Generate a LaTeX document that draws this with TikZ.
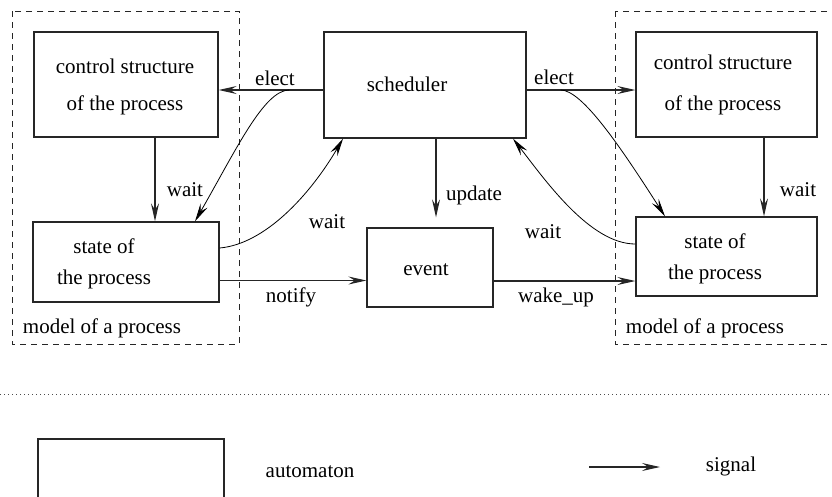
\documentclass[tikz,border=0pt]{standalone}
\usepackage{fontspec}
\setmainfont{Liberation Serif}
\usetikzlibrary{arrows.meta,positioning}

\begin{document}
\begin{tikzpicture}[
    x=1pt, y=-1pt,
    box/.style={draw=black!85, line width=1.3pt, inner sep=0pt},
    ctrl/.style={box, minimum width=184pt, minimum height=105pt},
    state/.style={box, minimum height=80pt},
    lbl/.style={font=\fontsize{21}{24}\selectfont, inner sep=0pt, align=center},
    flow/.style={-{Stealth[length=18pt, width=8pt, inset=6.5pt]}, line width=1.1pt, draw=black!85},
    curved/.style={flow, line width=0.8pt, draw=black},
    region/.style={draw=black!85, line width=0.9pt, dash pattern=on 6pt off 5pt}
]
\useasboundingbox (0,0) rectangle (832,496);
\clip (0,0) rectangle (832,496);

% the two process models
\draw[region] (12,11) rectangle (239,344);
\draw[region] (615,11) rectangle (850,344);
\node[lbl] (lmodel) at (102,328) {model of a process};
\node[lbl] (rmodel) at (705,328) {model of a process};

\node[ctrl] (lctrl) at (126,84.5) {};
\node[lbl] at (125,87) {control structure\\[13pt]of the process};
\node[state, minimum width=186pt] (lstate) at (126,262) {};
\node[lbl] at (104,264) {state of\\[7pt]the process};

\node[box, minimum width=202pt, minimum height=106pt] (sched) at (425,85) {};
\node[lbl] at (407,84) {scheduler};
\node[box, minimum width=126pt, minimum height=79pt] (event) at (430,267.5) {};
\node[lbl] at (426,270) {event};

\node[ctrl, minimum width=181pt] (rctrl) at (726.5,84.5) {};
\node[lbl] at (723,85) {control structure\\[17pt]of the process};
\node[state, minimum width=181pt, minimum height=79pt] (rstate) at (726.5,256.5) {};
\node[lbl] at (715,259) {state of\\[7pt]the process};

% signals
\coordinate (lfork) at ([xshift=-34pt,yshift=-5pt]sched.west);
\coordinate (rfork) at ([xshift=34pt,yshift=-5pt]sched.east);
\draw[flow] ([yshift=-5pt]sched.west) -- ([yshift=-5pt]sched.west -| lctrl.east);
\draw[flow] ([yshift=-5pt]sched.east) -- ([yshift=-5pt]sched.east -| rctrl.west);
\draw[curved] (lfork) .. controls (264,90) and (236,150) .. ([xshift=69pt]lstate.north);
\draw[curved] (rfork) .. controls (582,90) and (620,146) .. ([xshift=-61.5pt]rstate.north);
\draw[flow] ([xshift=29pt]lctrl.south) -- ([xshift=29pt]lstate.north);
\draw[flow] ([xshift=37.5pt]rctrl.south) -- ([xshift=37.5pt]rstate.north);
\draw[curved] ([yshift=14pt]lstate.east) .. controls (265,244) and (310,195) .. ([xshift=-82pt]sched.south);
\draw[curved] ([yshift=12.5pt]rstate.west) .. controls (590,244) and (545,180) .. ([xshift=88pt]sched.south);
\draw[flow] ([xshift=11pt]sched.south) -- ([xshift=6pt,yshift=10pt]event.north);
\draw[flow] ([yshift=-18.5pt]lstate.east) -- ([yshift=-18.5pt]lstate.east -| event.west);
\draw[flow] ([yshift=-13.5pt]event.east) -- ([yshift=-13.5pt]event.east -| rstate.west);

\node[lbl] at (275,78) {elect};
\node[lbl] at (554,77) {elect};
\node[lbl] at (185,190) {wait};
\node[lbl] at (327,222) {wait};
\node[lbl] at (474,195) {update};
\node[lbl] at (543,232) {wait};
\node[lbl] at (798,190) {wait};
\node[lbl] at (291,297) {notify};
\node[lbl] at (556,297) {wake\_up};

% legend
\draw[draw=black!70, line width=0.8pt, dash pattern=on 1pt off 3pt] (0,394) -- (832,394);
\node[box, minimum width=186pt, minimum height=70pt] (key) at (131,474) {};
\node[lbl] (keytext) at (310,472) {automaton};
\coordinate (sigA) at (589,467);
\coordinate (sigB) at (660,467);
\draw[flow] (sigA) -- (sigB);
\node[lbl] (sigtext) at (731,466) {signal};
\end{tikzpicture}
\end{document}
